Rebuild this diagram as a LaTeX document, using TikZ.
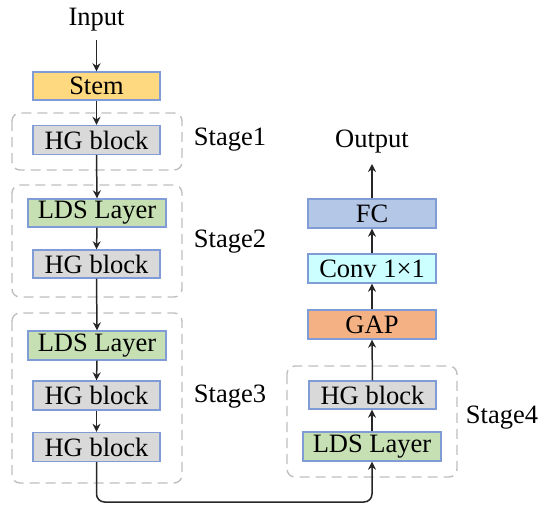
\documentclass[tikz,border=0pt]{standalone}
\usepackage{fontspec}
\setmainfont{Liberation Serif}
\usetikzlibrary{arrows.meta}
\definecolor{bordblue}{HTML}{7F9CD6}
\definecolor{stemfill}{HTML}{FFD97F}
\definecolor{hgfill}{HTML}{D9D9D9}
\definecolor{ldsfill}{HTML}{C6E0B4}
\definecolor{fcfill}{HTML}{B4C7E7}
\definecolor{convfill}{HTML}{CCFFFF}
\definecolor{gapfill}{HTML}{F4B183}
\definecolor{dashgrey}{HTML}{BFBFBF}
\begin{document}
\begin{tikzpicture}[x=1pt,y=-1pt,
  every node/.style={font=\fontsize{26.5}{30}\selectfont},
  blk/.style={draw=bordblue, line width=1.4pt, minimum height=29pt, inner sep=0pt, anchor=center},
  narrow/.style={blk, minimum width=127pt},
  wide/.style={blk, minimum width=138pt},
  stagebox/.style={draw=dashgrey, line width=1.4pt, dash pattern=on 10pt off 6pt, rounded corners=8pt},
  arr/.style={draw=black!85, line width=1.5pt, -{Stealth[length=8pt,width=8pt]}},
  lbl/.style={inner sep=0pt, anchor=center}]
\useasboundingbox (0,0) rectangle (544,506);
% stage frames
\draw[stagebox] (12,113) rectangle (182,170);
\draw[stagebox] (12,185) rectangle (182,297);
\draw[stagebox] (12,313) rectangle (182,483);
\draw[stagebox] (287,366) rectangle (457,477);
% left column
\node[lbl] (in) at (96.5,20) {Input};
\coordinate (inend) at (96.5,40);
\node[narrow, fill=stemfill, minimum height=28pt] (stem) at (96.5,86) {Stem};
\node[narrow, fill=hgfill] (hg1) at (96.5,140) {HG block};
\node[wide, fill=ldsfill, minimum height=28pt] (lds2) at (97,213) {LDS Layer};
\node[narrow, fill=hgfill, minimum height=28pt] (hg2) at (96.5,264) {HG block};
\node[wide, fill=ldsfill] (lds3) at (97,345.5) {LDS Layer};
\node[narrow, fill=hgfill] (hg3a) at (96.5,395.5) {HG block};
\node[narrow, fill=hgfill] (hg3b) at (96.5,447) {HG block};
% right column
\node[lbl] (out) at (372,142) {Output};
\coordinate (outend) at (372,164);
\node[blk, minimum width=128pt, fill=fcfill] (fc) at (372,213.5) {FC};
\node[blk, minimum width=128pt, fill=convfill] (conv) at (372,268.5) {Conv 1×1};
\node[blk, minimum width=128pt, fill=gapfill] (gap) at (372,324.5) {GAP};
\node[narrow, fill=hgfill, minimum height=28pt] (hg4) at (372.5,395) {HG block};
\node[wide, fill=ldsfill] (lds4) at (372,446.5) {LDS Layer};
% stage labels
\node[lbl] (s1) at (230,140) {Stage1};
\node[lbl] (s2) at (230,242) {Stage2};
\node[lbl] (s3) at (230,397) {Stage3};
\node[lbl] (s4) at (502,418) {Stage4};
% arrows
\draw[arr] (inend) -- (stem.north);
\draw[arr] (stem.south) -- (hg1.north);
\draw[arr] (hg1.south) -- (lds2.north);
\draw[arr] (lds2.south) -- (hg2.north);
\draw[arr] (hg2.south) -- (lds3.north);
\draw[arr] (lds3.south) -- (hg3a.north);
\draw[arr] (hg3a.south) -- (hg3b.north);
\coordinate (low) at (0,502);
\draw[arr, rounded corners=8pt] (hg3b.south) -- (hg3b.south |- low) -- (lds4.south |- low) -- (lds4.south);
\draw[arr] (lds4.north) -- (lds4.north |- hg4.south);
\draw[arr] (hg4.north) -- (gap.south);
\draw[arr] (gap.north) -- (conv.south);
\draw[arr] (conv.north) -- (fc.south);
\draw[arr] (fc.north) -- (outend);
\end{tikzpicture}
\end{document}
